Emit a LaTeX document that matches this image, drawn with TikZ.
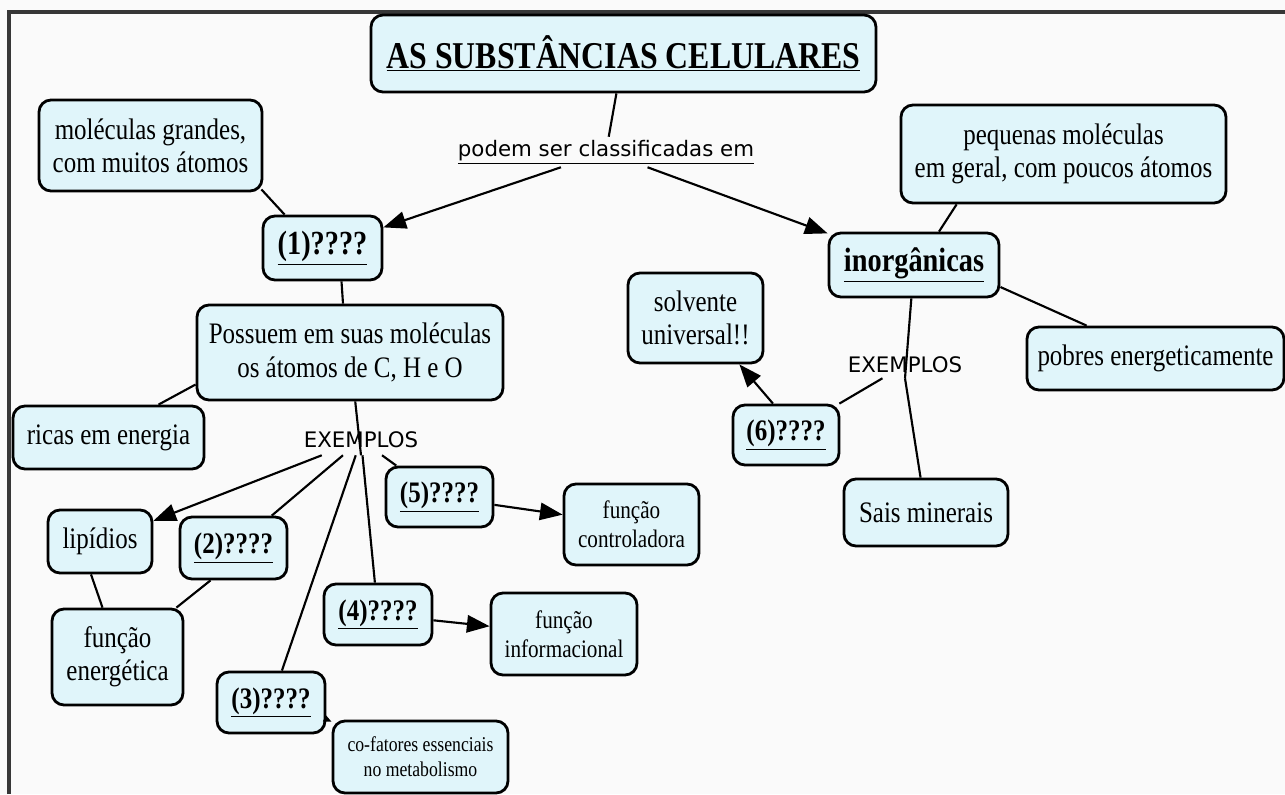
\documentclass[tikz,border=0pt]{standalone}
\usepackage{fontspec}
\setmainfont{Liberation Serif}[FakeStretch=0.84]
\newfontfamily\sfnt{DejaVu Sans}
\usetikzlibrary{arrows.meta,calc}
\definecolor{boxfill}{RGB}{224,245,250}
\definecolor{bgc}{RGB}{250,250,250}
\definecolor{framec}{RGB}{55,55,55}
\begin{document}
\begin{tikzpicture}[x=0.75pt,y=-0.75pt,
  bx/.style 2 args={draw=black, line width=2.1pt, rounded corners=9pt, fill=boxfill,
    minimum width=#1*0.75pt, minimum height=#2*0.75pt, inner sep=0pt, align=center},
  body/.style={font=\fontsize{22.3}{25}\selectfont},
  func/.style={font=\fontsize{18.9}{21.8}\selectfont},
  smallt/.style={font=\fontsize{15.8}{18.5}\selectfont},
  big/.style={font=\bfseries\fontsize{25.3}{28}\selectfont},
  ttl/.style={font=\bfseries\fontsize{28.4}{32}\selectfont},
  qn/.style={font=\bfseries\fontsize{22.3}{25}\selectfont},
  lnk/.style={font=\sfnt\fontsize{16}{19}\selectfont, inner sep=0pt, align=center},
  ln/.style={line width=1.6pt, draw=black},
  arr/.style={ln, -{Triangle[length=17pt,width=13pt]}},
  sarr/.style={ln, -{Triangle[length=6pt,width=5pt]}}
]
\useasboundingbox (0,0) rectangle (1285,794);
\fill[bgc] (0,0) rectangle (1285,794);
\draw[framec, line width=2.4pt] (9,794) -- (9,12) -- (1285,12);

% nodes
\node[bx={505}{77}, ttl] (title) at (623.5,53.5) {\underline{AS SUBSTÂNCIAS CELULARES}};
\node[lnk, minimum width=293*0.75pt, minimum height=30*0.75pt] (podem) at (606,152) {\underline{podem ser classificadas em}};
\node[bx={223}{91}, body] (mg) at (150.5,145.5) {moléculas grandes,\\com muitos átomos};
\node[bx={119}{64}, big] (q1) at (322.5,248) {\underline{(1)????}};
\node[bx={306}{95}, body] (possuem) at (350,352.5) {Possuem em suas moléculas\\os átomos de C, H e O};
\node[bx={191}{63}, body] (ricas) at (108.5,437.5) {ricas em energia};
\node[lnk, minimum width=114*0.75pt, minimum height=30*0.75pt] (exl) at (361,440) {EXEMPLOS};
\node[bx={104}{63}, body] (lip) at (100,541.5) {lipídios};
\node[bx={107}{62}, qn] (q2) at (233.5,548) {\underline{(2)????}};
\node[bx={131}{96}, body] (fe) at (117.5,657) {função\\energética};
\node[bx={108}{61}, qn] (q3) at (271,702.5) {\underline{(3)????}};
\node[bx={175}{72}, smallt] (cof) at (420.5,757) {co-fatores essenciais\\no metabolismo};
\node[bx={108}{61}, qn] (q4) at (378,614.5) {\underline{(4)????}};
\node[bx={146}{82}, func] (finf) at (564,634) {função\\informacional};
\node[bx={107}{60}, qn] (q5) at (439.5,497) {\underline{(5)????}};
\node[bx={135}{81}, func] (fctrl) at (631.5,524.5) {função\\controladora};
\node[bx={325}{98}, body] (peq) at (1063.5,154) {pequenas moléculas\\em geral, com poucos átomos};
\node[bx={170}{64}, big] (inorg) at (914,265) {\underline{inorgânicas}};
\node[bx={257}{63}, body] (pobres) at (1155.5,358.5) {pobres energeticamente};
\node[lnk, minimum width=114*0.75pt, minimum height=26*0.75pt] (exr) at (905,365) {EXEMPLOS};
\node[bx={135}{90}, body] (solv) at (695.5,318) {solvente\\universal!!};
\node[bx={106}{60}, qn] (q6) at (786,435) {\underline{(6)????}};
\node[bx={164}{67}, body] (sais) at (926,512.5) {Sais minerais};

% connectors
\draw[ln] (title) -- (podem);
\draw[arr] (podem) -- (q1);
\draw[arr] (podem) -- (inorg);
\draw[ln] ($(mg.south east)+(-2,-3)$) -- ($(q1.north west)+(23,0)$);
\draw[ln] ($(q1.south)+(19,0)$) -- ($(possuem.north)+(-7,0)$);
\draw[ln] ($(possuem.west)+(0,32)$) -- ($(ricas.north)+(50,0)$);
\draw[ln] (possuem) -- (exl.south);
\draw[arr] (exl) -- (lip);
\draw[ln] (exl) -- (q2);
\draw[ln] (exl) -- (q3);
\draw[ln] (exl) -- (q4);
\draw[ln] (exl) -- (q5);
\draw[ln] ($(lip.south)+(-9,0)$) -- ($(fe.north)+(-15,0)$);
\draw[ln] ($(q2.south)+(-23,0)$) -- ($(fe.north east)+(-8,0)$);
\draw[sarr] ($(q3.south east)+(-2,-16)$) -- ($(cof.north west)+(0,2)$);
\draw[arr] (q4) -- (finf);
\draw[arr] (q5) -- (fctrl);
\draw[ln] ($(peq.south west)+(57,0)$) -- ($(inorg.north)+(25,0)$);
\draw[ln] ($(inorg.east)+(0,22)$) -- ($(pobres.north west)+(61,0)$);
\draw[ln] (inorg) -- (exr.south);
\draw[ln] (exr.south) -- (sais);
\draw[ln] (exr) -- (q6);
\draw[arr] ($(q6.north)+(-13,0)$) -- ($(solv.south east)+(-25,0)$);
\end{tikzpicture}
\end{document}
